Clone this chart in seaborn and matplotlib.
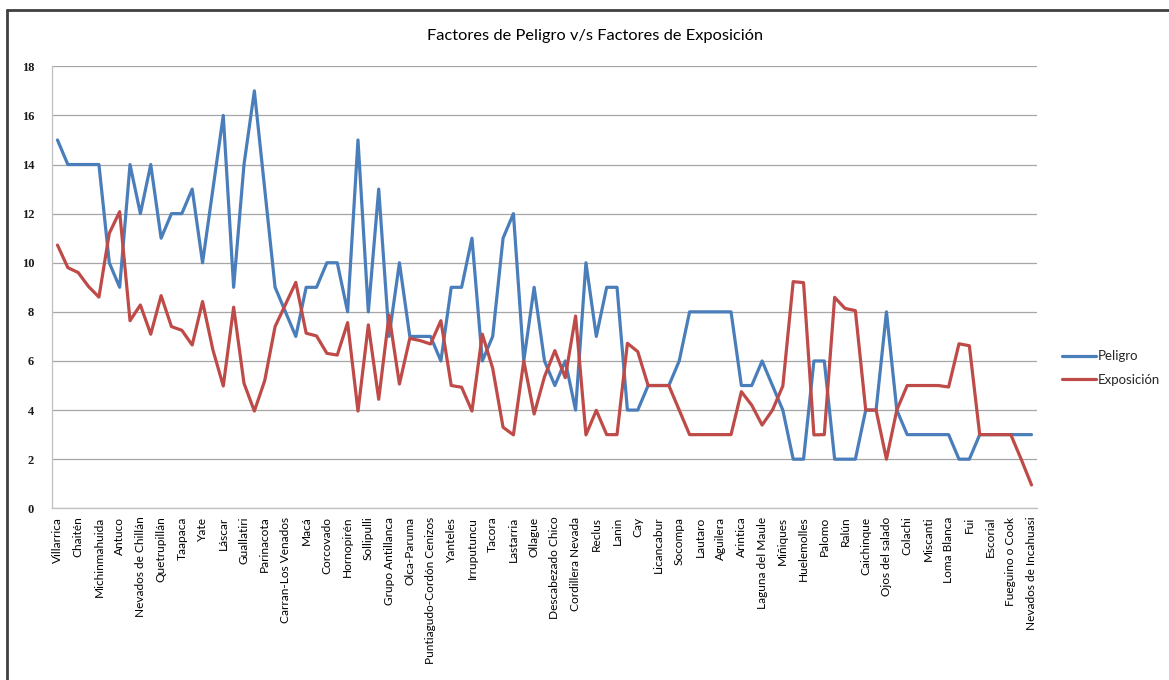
import numpy as np
import pandas as pd
import matplotlib
matplotlib.use("Agg")
import matplotlib.pyplot as plt
from matplotlib.lines import Line2D
import seaborn as sns

# ---- data ----
tick_labels = [
    "Villarrica", "Chaitén", "Michinmahuida", "Antuco", "Nevados de Chillán",
    "Quetrupillán", "Taapaca", "Yate", "Láscar", "Guallatiri", "Parinacota",
    "Carran-Los Venados", "Macá", "Corcovado", "Hornopirén", "Sollipulli",
    "Grupo Antillanca", "Olca-Paruma", "Puntiagudo-Cordón Cenizos", "Yanteles",
    "Irruputuncu", "Tacora", "Lastarria", "Ollague", "Descabezado Chico",
    "Cordillera Nevada", "Reclus", "Lanin", "Cay", "Licancabur", "Socompa",
    "Lautaro", "Aguilera", "Arintica", "Laguna del Maule", "Miñiques",
    "Huelemolles", "Palomo", "Ralún", "Caichinque", "Ojos del salado",
    "Colachi", "Miscanti", "Loma Blanca", "Fui", "Escorial",
    "Fueguino o Cook", "Nevados de Incahuasi",
]

peligro = [
    15, 14, 14, 14, 14, 10, 9, 14, 12, 14, 11, 12, 12, 13, 10, 13, 16, 9, 14, 17,
    13, 9, 8, 7, 9, 9, 10, 10, 8, 15, 8, 13, 7, 10, 7, 7, 7, 6, 9, 9, 11, 6, 7,
    11, 12, 6, 9, 6, 5, 6, 4, 10, 7, 9, 9, 4, 4, 5, 5, 5, 6, 8, 8, 8, 8,
    8, 5, 5, 6, 5, 4, 2, 2, 6, 6, 2, 2, 2, 4, 4, 8, 4, 3, 3, 3, 3,
    3, 2, 2, 3, 3, 3, 3, 3, 3,
]

exposicion = [
    10.72, 9.8, 9.6, 9.03, 8.6, 11.2, 12.08, 7.64, 8.28, 7.09, 8.66, 7.4, 7.25,
    6.65, 8.42, 6.45, 4.98, 8.19, 5.09, 3.96,
    5.2, 7.4, 8.3, 9.2, 7.13, 7.02, 6.31, 6.24, 7.56, 3.96, 7.47, 4.44, 7.87,
    5.06, 6.92, 6.83, 6.69, 7.64, 5.0, 4.93, 3.96, 7.09, 5.7,
    3.3, 2.99, 6.0, 3.84, 5.36, 6.42, 5.32, 7.83, 2.99, 3.99, 3.0, 3.0, 6.72,
    6.38, 5, 5, 5, 4, 3, 3, 3, 3,
    3, 4.75, 4.2, 3.39, 4.0, 4.98, 9.23, 9.19, 2.99, 3, 8.59, 8.14, 8.05, 4, 4,
    2, 4, 5, 5, 5, 5,
    4.94, 6.7, 6.62, 3, 3, 3, 3, 2, 0.95,
]

series_names = ["Peligro", "Exposición"]
colors = ["#4A7EBB", "#BE4B48"]

n = len(peligro)
idx = np.arange(n)
df = pd.DataFrame({
    "pos": np.concatenate([idx, idx]),
    "valor": np.concatenate([peligro, exposicion]),
    "serie": [series_names[0]] * n + [series_names[1]] * n,
})

# ---- figure ----
sns.set_theme(style="white")
plt.rcParams["font.family"] = ["Lato", "DejaVu Sans"]

W, H = 1169, 680
fig = plt.figure(figsize=(W / 100, H / 100), dpi=100)
ax = fig.add_axes([52.3 / W, 1 - 508.3 / H, (1036.7 - 52.3) / W, (508.3 - 66.3) / H])

sns.lineplot(data=df, x="pos", y="valor", hue="serie", palette=colors,
             linewidth=2.3, ax=ax, sort=False, legend=False)

ax.set_xlim(-0.5, n - 0.5)
ax.set_ylim(0, 18)
ax.set_yticks(np.arange(0, 19, 2))
ax.set_yticklabels([str(v) for v in range(0, 19, 2)],
                   fontfamily=["Liberation Serif", "DejaVu Serif"],
                   fontsize=9, fontweight="bold", color="#1a1a1a")
ax.set_xticks(np.arange(0, n, 2))
ax.set_xticklabels(tick_labels, rotation=90, fontsize=8.6, color="#000000")
ax.tick_params(axis="y", length=0, pad=13)
ax.tick_params(axis="x", length=0, pad=6)
ax.set_xlabel("")
ax.set_ylabel("")
ax.grid(axis="y", color="#A6A6A6", linewidth=0.9)
ax.set_axisbelow(True)
for s in ["top", "right"]:
    ax.spines[s].set_visible(False)
ax.spines["left"].set_color("#BFBFBF")
ax.spines["bottom"].set_color("#BFBFBF")
ax.spines["left"].set_linewidth(0.9)
ax.spines["bottom"].set_linewidth(0.9)

fig.text(595 / W, 1 - 36 / H, "Factores de Peligro v/s Factores de Exposición",
         ha="center", va="center", fontsize=11.8, color="#000000")

handles = [Line2D([0], [0], color=c, lw=2.3) for c in colors]
leg = fig.legend(handles, series_names, loc="center left",
                 bbox_to_anchor=(1050 / W, 1 - 368 / H), frameon=False,
                 fontsize=9.5, handlelength=2.6, handletextpad=0.1,
                 labelspacing=0.85)

# chart-area border
bc = "#404040"
fig.add_artist(Line2D([6.5 / W, 6.5 / W], [0, 1 - 10 / H], color=bc, lw=2,
                      transform=fig.transFigure))
fig.add_artist(Line2D([6.5 / W, 1], [1 - 10 / H, 1 - 10 / H], color=bc, lw=2,
                      transform=fig.transFigure))

fig.savefig("out.png", dpi=100)
